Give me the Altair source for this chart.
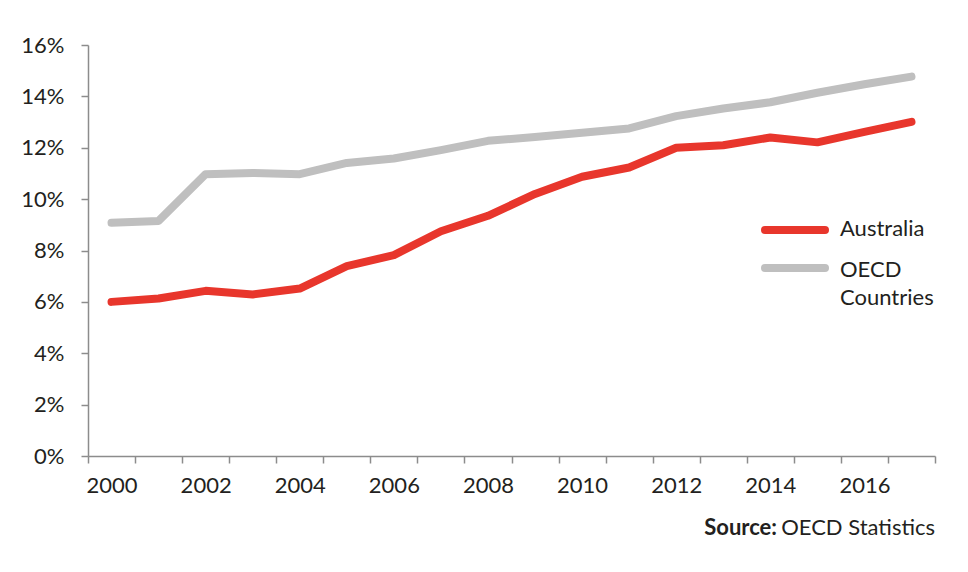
import altair as alt
import pandas as pd

years = list(range(2000, 2018))
australia = [6.0, 6.13, 6.43, 6.29, 6.52, 7.39, 7.82, 8.75, 9.35, 10.2,
             10.87, 11.23, 12.0, 12.1, 12.4, 12.21, 12.62, 13.01]
oecd = [9.08, 9.15, 10.97, 11.02, 10.97, 11.41, 11.58, 11.91, 12.27, 12.42,
        12.58, 12.75, 13.23, 13.53, 13.77, 14.14, 14.47, 14.77]
series = ["Australia", "OECD Countries"]
colors = ["#E8362C", "#BFBFBF"]
y_ticks = [0, 2, 4, 6, 8, 10, 12, 14, 16]

df = pd.DataFrame({
    "year": [str(y) for y in years] * 2,
    "value": australia + oecd,
    "series": [series[0]] * len(years) + [series[1]] * len(years),
})

FONT = "Lato"
FS = 22
TXT = "#231f20"
W, H = 847, 411

lines = alt.Chart(df).mark_line(strokeWidth=8, strokeCap="round", strokeJoin="round").encode(
    x=alt.X("year:O",
            scale=alt.Scale(type="band", paddingInner=0, paddingOuter=0),
            bandPosition=0.5,
            axis=alt.Axis(title=None, labelAngle=0, tickBand="extent", tickSize=7,
                          labelPadding=12,
                          labelExpr="toNumber(datum.value) % 2 == 0 ? datum.label : ''")),
    y=alt.Y("value:Q",
            scale=alt.Scale(domain=[0, 16], nice=False, zero=True),
            axis=alt.Axis(title=None, values=y_ticks, grid=False, tickSize=7,
                          labelPadding=17, labelExpr="datum.value + '%'")),
    color=alt.Color("series:N", scale=alt.Scale(domain=series, range=colors), legend=None),
    detail="series:N",
)

one = pd.DataFrame({"k": [0]})

leg_y = [185, 223]
legend_layers = []
for i in range(2):
    legend_layers.append(
        alt.Chart(one).mark_rule(strokeWidth=8, strokeCap="round").encode(
            x=alt.value(677), x2=alt.value(737), y=alt.value(leg_y[i]),
            color=alt.value(colors[i]))
    )

def label(txt, x, y, align="left", weight="normal"):
    return alt.Chart(one).mark_text(align=align, baseline="middle", font=FONT,
                                    fontSize=FS, fontWeight=weight, color=TXT).encode(
        x=alt.value(x), y=alt.value(y), text=alt.value(txt))

texts = [
    label("Australia", 752, 184),
    label("OECD", 752, 225),
    label("Countries", 752, 253),
    label("Source:", 689, 483, align="right", weight="bold"),
    label("OECD Statistics", W, 483, align="right"),
]

chart = alt.layer(lines, *legend_layers, *texts).properties(
    width=W, height=H,
    autosize=alt.AutoSizeParams(type="none"),
    padding={"left": 80, "top": 37, "right": 25, "bottom": 108},
).configure_view(stroke=None).configure_axis(
    labelFont=FONT, labelFontSize=FS, labelColor=TXT,
    domainColor="#8c8c8c", tickColor="#8c8c8c", domainWidth=1.5, tickWidth=1.5,
)

chart.save("out.html", embed_options={"renderer": "svg", "actions": False})
